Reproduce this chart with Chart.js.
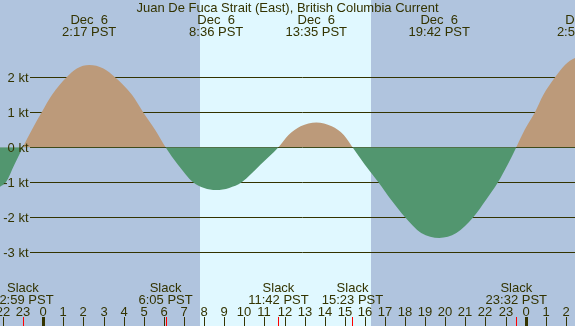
<!DOCTYPE html>
<html>
<head>
<meta charset="utf-8">
<script src="https://cdn.jsdelivr.net/npm/chart.js@4"></script>
<style>
  html, body { margin:0; padding:0; background:#b0c4de; }
  canvas { display:block; }
</style>
</head>
<body>
<canvas id="tide" width="575" height="326"></canvas>
<script>
// current speed (knots), hours from midnight Dec 6 (PST)
const hours = [
  -4.5, -3.6, -2.8, -2.154, -1.86, -1.44,
  -1.017, -0.567, -0.08, 0.437, 1.16, 1.668, 2.283, 2.99, 3.57, 4.41, 4.97, 5.56,
  6.083, 6.7, 7.45, 8.0, 8.6, 9.25, 9.87, 10.8,
  11.7, 12.2, 12.8, 13.583, 14.35, 14.95,
  15.383, 16.0, 16.67, 17.3, 18.0, 18.8, 19.7, 20.55, 21.39, 22.03, 22.62, 23.1,
  23.533, 23.95, 24.46, 24.88, 25.46, 25.95, 26.45, 26.9, 27.6
];
const knots = [
  -1.45, -1.5, -1.4, -1.13, -1.0, -0.5,
  0, 0.5, 1.0, 1.5, 2.0, 2.25, 2.35, 2.25, 2.0, 1.5, 1.0, 0.5,
  0, -0.5, -1.0, -1.16, -1.22, -1.16, -1.0, -0.5,
  0, 0.35, 0.6, 0.71, 0.6, 0.35,
  0, -0.5, -1.0, -1.5, -2.0, -2.45, -2.59, -2.45, -2.0, -1.5, -1.0, -0.5,
  0, 0.5, 1.0, 1.5, 2.0, 2.35, 2.55, 2.6, 2.5
];

// max current labels along the top
const maxHours = [2.283, 8.6, 13.583, 19.7, 26.9];
const maxDates = ['Dec  6', 'Dec  6', 'Dec  6', 'Dec  6', 'Dec  7'];
const maxTimes = ['2:17 PST', '8:36 PST', '13:35 PST', '19:42 PST', '2:54 PST'];

// slack labels along the bottom
const slackHours = [-1.017, 6.083, 11.7, 15.383, 23.533];
const slackTimes = ['22:59 PST', '6:05 PST', '11:42 PST', '15:23 PST', '23:32 PST'];

const yTicks = [2, 1, 0, -1, -2, -3];
const hourTicks = Array.from({length: 29}, (_, i) => i - 2);
const daylight = [7.8, 16.3]; // sunrise / sunset

const TITLE = 'Juan De Fuca Strait (East), British Columbia Current';
const FONT = '13px "Liberation Sans", Arial, sans-serif';
const INK = '#333300';

const decor = {
  id: 'decor',
  beforeDatasetsDraw(chart){
    const {ctx, scales:{x, y}, width, height} = chart;
    ctx.save();
    ctx.fillStyle = '#b0c4de';
    ctx.fillRect(0, 0, width, height);
    const d0 = Math.round(x.getPixelForValue(daylight[0]));
    const d1 = Math.round(x.getPixelForValue(daylight[1]));
    ctx.fillStyle = '#e0f8ff';
    ctx.fillRect(d0, 0, d1 - d0, height);
    // horizontal knot lines (behind the fill)
    ctx.strokeStyle = INK;
    ctx.lineWidth = 1;
    yTicks.forEach(v => {
      const py = Math.round(y.getPixelForValue(v)) + 0.5;
      ctx.beginPath(); ctx.moveTo(30, py); ctx.lineTo(width, py); ctx.stroke();
    });
    ctx.restore();
  },
  afterDatasetsDraw(chart){
    const {ctx, scales:{x, y}, width, height} = chart;
    ctx.save();
    ctx.font = FONT;
    ctx.fillStyle = INK;
    ctx.textBaseline = 'alphabetic';

    // y labels
    ctx.textAlign = 'right';
    yTicks.forEach(v => {
      const py = Math.round(y.getPixelForValue(v));
      ctx.fillText(v + ' kt', 28.5, py + 5);
    });

    // title + max labels
    ctx.textAlign = 'center';
    ctx.fillText(TITLE, width / 2, 11.5);
    maxHours.forEach((h, i) => {
      const px = x.getPixelForValue(h);
      ctx.fillText(maxDates[i], px, 24);
      ctx.fillText(maxTimes[i], px, 36);
    });

    // slack labels
    slackHours.forEach((h, i) => {
      const px = x.getPixelForValue(h);
      ctx.fillText('Slack', px, 292);
      ctx.fillText(slackTimes[i], px, 304);
    });

    // hour labels + ticks
    hourTicks.forEach(h => {
      const px = Math.round(x.getPixelForValue(h));
      ctx.fillText(String(((h % 24) + 24) % 24), px, 316);
      if (h % 24 === 0) ctx.fillRect(px - 1, 317, 3, height - 317);
      else ctx.fillRect(px, 317, 1, height - 317);
    });
    ctx.fillStyle = 'red';
    slackHours.forEach(h => {
      const px = Math.round(x.getPixelForValue(h));
      ctx.fillRect(px, 317, 1, height - 317);
    });
    ctx.restore();
  }
};

new Chart(document.getElementById('tide'), {
  type: 'line',
  data: {
    datasets: [{
      data: hours.map((h, i) => ({x: h, y: knots[i]})),
      borderColor: 'rgba(0,0,0,0)',
      borderWidth: 0,
      pointRadius: 0,
      cubicInterpolationMode: 'monotone',
      fill: { target: {value: 0}, above: '#bc9a7a', below: '#52966f' }
    }]
  },
  options: {
    responsive: false,
    animation: false,
    layout: { padding: 0 },
    plugins: { legend: {display: false}, tooltip: {enabled: false} },
    scales: {
      x: { type: 'linear', display: false, min: -43.3 / 20.1, max: (575 - 43.3) / 20.1 },
      y: { display: false, min: -(326 - 147.3) / 35, max: 147.3 / 35 }
    }
  },
  plugins: [decor]
});
</script>
</body>
</html>
